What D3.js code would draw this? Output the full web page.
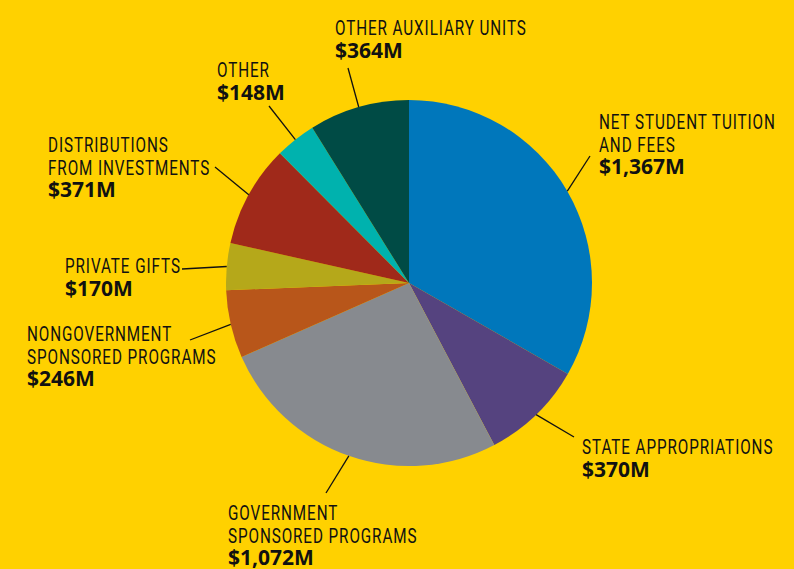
<!DOCTYPE html>
<html>
<head>
<meta charset="utf-8">
<script src="https://cdn.jsdelivr.net/npm/d3@7"></script>
<style>
  html, body { margin: 0; padding: 0; background: #FFD100; }
  svg { display: block; }
  .lbl { font-family: Roboto, "Liberation Sans", sans-serif; font-size: 20px; fill: #111; letter-spacing: 1.2px; }
  .val { font-family: "Open Sans", "Liberation Sans", sans-serif; font-weight: 700; font-size: 21px; fill: #111; }
</style>
</head>
<body>
<svg id="chart" width="794" height="569"></svg>
<script>
// ---- data ----
const categories = [
  "Net Student Tuition and Fees",
  "State Appropriations",
  "Government Sponsored Programs",
  "Nongovernment Sponsored Programs",
  "Private Gifts",
  "Distributions from Investments",
  "Other",
  "Other Auxiliary Units"
];
const values = [1367, 370, 1072, 246, 170, 371, 148, 364];
const labelLines = [
  ["NET STUDENT TUITION", "AND FEES"],
  ["STATE APPROPRIATIONS"],
  ["GOVERNMENT", "SPONSORED PROGRAMS"],
  ["NONGOVERNMENT", "SPONSORED PROGRAMS"],
  ["PRIVATE GIFTS"],
  ["DISTRIBUTIONS", "FROM INVESTMENTS"],
  ["OTHER"],
  ["OTHER AUXILIARY UNITS"]
];
const valueLabels = ["$1,367M", "$370M", "$1,072M", "$246M", "$170M", "$371M", "$148M", "$364M"];
const colors = ["#0077BB", "#55437F", "#878A8F", "#B8561A", "#B5A81A", "#A0291A", "#00B2AE", "#004B45"];

// ---- layout (positions only) ----
const labelPos = [ // text left x, first baseline y
  [599, 129], [582, 454], [228, 520], [27, 341], [65, 273], [48, 152], [217, 77], [335, 35]
];
const leaderEnd = [
  [590, 156], [574, 437], [326, 493], [190, 340], [182, 269], [215, 167], [269, 106], [348, 68]
];
const cx = 409, cy = 283, R = 183, lineH = 22.5;
const refLineWidth = 177; // width of "NET STUDENT TUITION" line in the reference

const svg = d3.select("#chart");
svg.append("rect").attr("width", 794).attr("height", 569).attr("fill", "#FFD100");

const pie = d3.pie().sort(null).value(d => d)(values);
const arc = d3.arc().innerRadius(0).outerRadius(R);
const edge = d3.arc().innerRadius(R).outerRadius(R);

const g = svg.append("g").attr("transform", `translate(${cx},${cy})`);
g.selectAll("path").data(pie).join("path")
  .attr("d", arc)
  .attr("fill", (d, i) => colors[i]);

// leader lines
svg.append("g").selectAll("line").data(pie).join("line")
  .attr("x1", (d) => cx + edge.centroid(d)[0])
  .attr("y1", (d) => cy + edge.centroid(d)[1])
  .attr("x2", (d, i) => leaderEnd[i][0])
  .attr("y2", (d, i) => leaderEnd[i][1])
  .attr("stroke", "#111").attr("stroke-width", 1.3);

// measure condensed factor
const probe = svg.append("text").attr("class", "lbl").text(labelLines[0][0]);
const sx = refLineWidth / probe.node().getComputedTextLength();
probe.remove();

// labels
const lg = svg.append("g");
categories.forEach((c, i) => {
  const [x, y] = labelPos[i];
  labelLines[i].forEach((ln, j) => {
    lg.append("text").attr("class", "lbl")
      .attr("transform", `translate(${x},${y + j * lineH}) scale(${sx},1)`)
      .text(ln);
  });
  lg.append("text").attr("class", "val").attr("x", x).attr("y", y + labelLines[i].length * lineH).text(valueLabels[i]);
});
</script>
</body>
</html>
